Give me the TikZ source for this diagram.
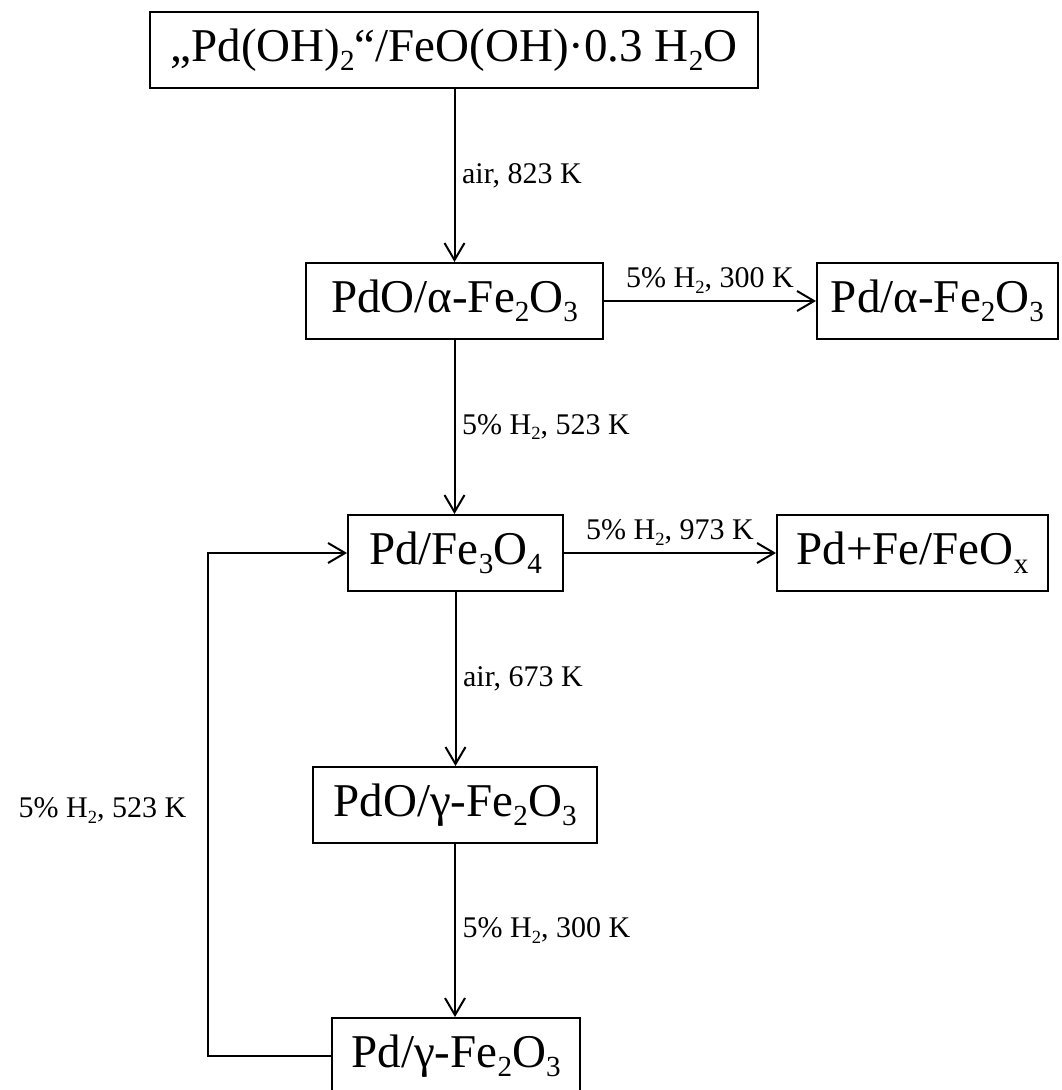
\documentclass[tikz,border=0pt]{standalone}
\usepackage{fontspec}
\setmainfont{Liberation Serif}
\usetikzlibrary{arrows.meta}
\newcommand{\dn}[1]{\raisebox{-0.19em}{\scalebox{0.62}{#1}}}

\begin{document}
\begin{tikzpicture}[x=0.5pt,y=-0.5pt,
    chem/.style={draw,line width=1pt,minimum height=38pt,inner xsep=2pt,inner ysep=0pt,font=\fontsize{23.5}{28}\selectfont},
    cond/.style={font=\fontsize{15}{18}\selectfont},
    flow/.style={line width=1pt,-{Straight Barb[length=8.5pt,width=10pt,line width=1pt]}}]
    \useasboundingbox (0,0) rectangle (1061,1090);
    \node[chem,minimum width=304pt] (hyd) at (454,50) {„Pd(OH)\dn{2}“/FeO(OH)·0.3 H\dn{2}O};
    \node[chem,minimum width=148.5pt] (pdoa) at (454.5,301) {PdO/α-Fe\dn{2}O\dn{3}};
    \node[chem,minimum width=120.5pt] (pda) at (937.5,301) {Pd/α-Fe\dn{2}O\dn{3}};
    \node[chem,minimum width=107.5pt] (pdm) at (455.5,553) {Pd/Fe\dn{3}O\dn{4}};
    \node[chem,minimum width=135.5pt] (pdfe) at (912.5,553) {Pd+Fe/FeO\dn{x}};
    \node[chem,minimum width=142pt] (pdog) at (455,805) {PdO/γ-Fe\dn{2}O\dn{3}};
    \node[chem,minimum width=124pt] (pdg) at (456,1056) {Pd/γ-Fe\dn{2}O\dn{3}};
    \coordinate (back) at (208,1056);
    \draw[flow] (hyd.south -| pdoa.north) -- (pdoa.north) node[cond,midway,right]{air, 823 K};
    \draw[flow] (pdoa.east) -- (pda.west) node[cond,midway,above]{5\% H\dn{2}, 300 K};
    \draw[flow] (pdoa.south) -- (pdoa.south |- pdm.north) node[cond,midway,right]{5\% H\dn{2}, 523 K};
    \draw[flow] (pdm.east) -- (pdfe.west) node[cond,midway,above]{5\% H\dn{2}, 973 K};
    \draw[flow] (pdm.south) -- (pdm.south |- pdog.north) node[cond,midway,right]{air, 673 K};
    \draw[flow] (pdog.south) -- (pdog.south |- pdg.north) node[cond,midway,right]{5\% H\dn{2}, 300 K};
    \draw[flow] (pdg.west) -- (back) |- (pdm.west) node[cond,pos=0.25,left,xshift=-7pt,yshift=-3pt]{5\% H\dn{2}, 523 K};
\end{tikzpicture}
\end{document}
